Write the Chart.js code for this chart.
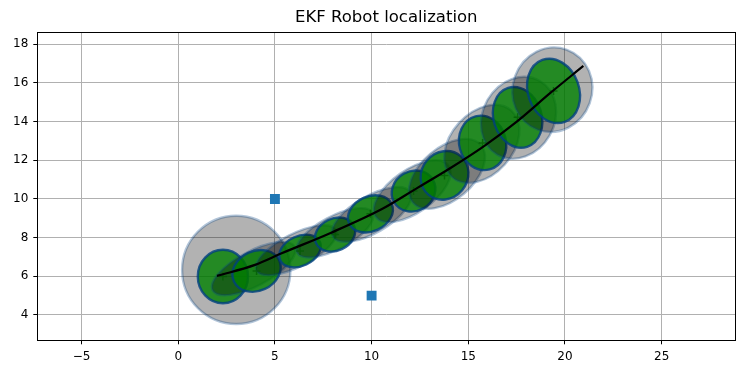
<!DOCTYPE html>
<html><head><meta charset="utf-8">
<script src="https://cdn.jsdelivr.net/npm/chart.js@4.4.1/dist/chart.umd.min.js"></script>
<style>html,body{margin:0;padding:0;background:#fff}canvas{display:block}</style>
</head><body>
<canvas id="c" width="744" height="374"></canvas>
<script>
// true robot track
const trackX = [2.0, 3.97, 5.35, 7.85, 10.61, 12.33, 14.06, 15.78, 17.51, 19.23, 20.95];
const trackY = [6.02, 6.59, 7.19, 8.23, 9.52, 10.55, 11.59, 12.71, 14.0, 15.47, 16.88];
// landmarks
const landmarkX = [5, 10];
const landmarkY = [10, 5];
// posterior (green) covariance ellipses: center, semi-axes, angle (deg)
const postX  = [2.31, 4.05, 6.30, 8.11, 9.94, 12.17, 13.77, 15.74, 17.55, 19.41];
const postY  = [5.99, 6.28, 7.31, 8.16, 9.23, 10.41, 11.22, 12.90, 14.22, 15.59];
const postRx = [1.30, 1.29, 1.13, 1.08, 1.21, 1.16, 1.30, 1.42, 1.60, 1.70];
const postRy = [1.38, 1.03, 0.77, 0.83, 0.90, 1.03, 1.19, 1.21, 1.24, 1.32];
const postAngle = [0, 25, 25, 25, 25, 30, 50, 105, 108, 110];
// prior (gray) covariance ellipses
const priorX  = [3.0, 3.9, 6.1, 8.1, 10.0, 12.1, 13.9, 15.7, 17.6, 19.35];
const priorY  = [6.33, 6.4, 7.35, 8.25, 9.2, 10.4, 11.3, 12.85, 14.2, 15.65];
const priorRx = [2.8, 2.4, 2.3, 2.2, 2.3, 2.3, 2.3, 2.3, 2.2, 2.2];
const priorRy = [2.8, 0.9, 0.85, 0.85, 0.95, 1.1, 1.35, 1.6, 1.85, 2.05];
const priorAngle = [0, 28, 27, 28, 30, 35, 40, 48, 60, 70];
// axis ticks
const xTicks = [-5, 0, 5, 10, 15, 20, 25];
const yTicks = [4, 6, 8, 10, 12, 14, 16, 18];

const FONT = "'DejaVu Sans', sans-serif";

const ellipsePlugin = {
  id: 'ellipses',
  beforeDatasetsDraw(chart) {
    const {ctx, chartArea, scales: {x, y}} = chart;
    const sx = x.getPixelForValue(1) - x.getPixelForValue(0);
    const sy = y.getPixelForValue(0) - y.getPixelForValue(1);
    function drawEllipse(cx, cy, rx, ry, ang, fill, stroke) {
      ctx.save();
      ctx.translate(x.getPixelForValue(cx), y.getPixelForValue(cy));
      ctx.scale(sx, -sy);
      ctx.rotate(ang * Math.PI / 180);
      ctx.beginPath();
      ctx.ellipse(0, 0, rx, ry, 0, 0, Math.PI * 2);
      ctx.restore();
      ctx.fillStyle = fill;
      ctx.fill();
      ctx.lineWidth = 2.4;
      ctx.strokeStyle = stroke;
      ctx.stroke();
    }
    ctx.save();
    ctx.beginPath();
    ctx.rect(chartArea.left, chartArea.top, chartArea.width, chartArea.height);
    ctx.clip();
    for (let i = 0; i < postX.length; i++) {
      drawEllipse(priorX[i], priorY[i], priorRx[i], priorRy[i], priorAngle[i], 'rgba(0,0,0,0.3)', 'rgba(0,64,128,0.3)');
      drawEllipse(postX[i], postY[i], postRx[i], postRy[i], postAngle[i], 'rgba(0,128,0,0.8)', 'rgba(0,64,128,0.8)');
    }
    ctx.restore();
  }
};

const framePlugin = {
  id: 'frame',
  afterDraw(chart) {
    const {ctx, chartArea: a} = chart;
    ctx.save();
    ctx.strokeStyle = '#000';
    ctx.lineWidth = 1;
    ctx.strokeRect(Math.round(a.left) + 0.5, Math.round(a.top) + 0.5, Math.round(a.right) - Math.round(a.left), Math.round(a.bottom) - Math.round(a.top));
    ctx.restore();
  }
};

new Chart(document.getElementById('c'), {
  type: 'scatter',
  data: {
    datasets: [
      {
        type: 'line',
        data: trackX.map((v, i) => ({x: v, y: trackY[i]})),
        borderColor: '#000',
        borderWidth: 2.2,
        pointRadius: 0,
        cubicInterpolationMode: 'monotone',
        fill: false,
        order: 0
      },
      {
        data: landmarkX.map((v, i) => ({x: v, y: landmarkY[i]})),
        pointStyle: 'rect',
        pointRadius: 7,
        backgroundColor: '#1f77b4',
        borderWidth: 0,
        order: 1
      },
      {
        data: postX.map((v, i) => ({x: v, y: postY[i]})),
        pointStyle: 'cross',
        pointRadius: 4,
        borderColor: 'rgba(0,90,0,0.7)',
        borderWidth: 1.5,
        order: 2
      }
    ]
  },
  options: {
    responsive: false,
    animation: false,
    devicePixelRatio: 1,
    layout: {padding: {left: 0, right: 8.7, top: 0, bottom: 0}},
    plugins: {
      legend: {display: false},
      tooltip: {enabled: false},
      title: {
        display: true,
        fullSize: false,
        text: 'EKF Robot localization',
        color: '#000',
        font: {family: FONT, size: 16.5, weight: 'normal'},
        padding: {top: 7.5, bottom: 5}
      }
    },
    scales: {
      x: {
        type: 'linear',
        min: -7.29, max: 28.81,
        afterBuildTicks: (axis) => { axis.ticks = xTicks.map(v => ({value: v})); },
        afterFit: (axis) => { axis.height = 33.7; },
        ticks: {color: '#000', font: {family: FONT, size: 12}, padding: 5, autoSkip: false, maxRotation: 0,
                callback: (v) => String(v).replace('-', '\u2212')},
        grid: {color: '#b0b0b0', lineWidth: 1, drawTicks: true, tickLength: 4, tickColor: '#000'},
        border: {display: true, color: '#000', width: 1}
      },
      y: {
        type: 'linear',
        min: 2.69, max: 18.62,
        afterBuildTicks: (axis) => { axis.ticks = yTicks.map(v => ({value: v})); },
        afterFit: (axis) => { axis.width = 37.3; },
        ticks: {color: '#000', font: {family: FONT, size: 12}, padding: 5, autoSkip: false},
        grid: {color: '#b0b0b0', lineWidth: 1, drawTicks: true, tickLength: 4, tickColor: '#000'},
        border: {display: true, color: '#000', width: 1}
      }
    }
  },
  plugins: [ellipsePlugin, framePlugin]
});
</script>
</body></html>
